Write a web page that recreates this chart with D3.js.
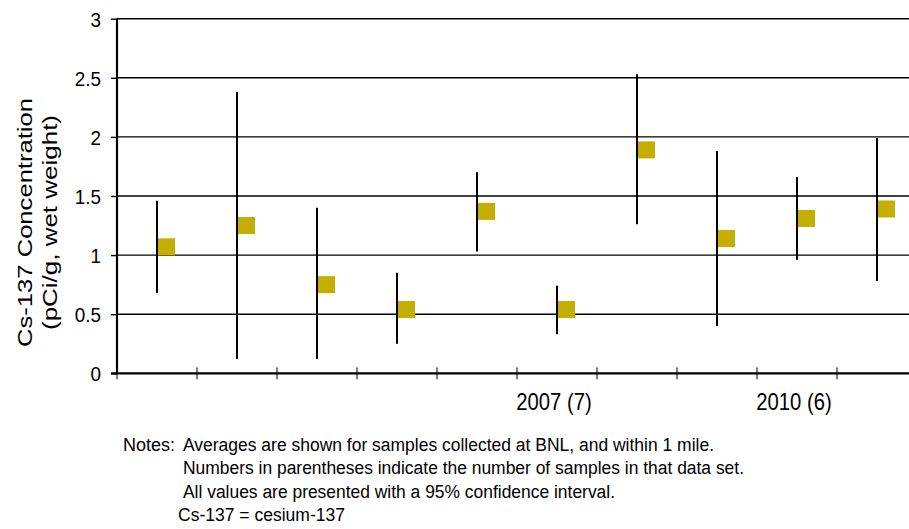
<!DOCTYPE html>
<html>
<head>
<meta charset="utf-8">
<script src="https://cdn.jsdelivr.net/npm/d3@7"></script>
<style>
  body { margin: 0; background: #fff; }
  svg text { font-family: "Liberation Sans", Arial, sans-serif; fill: #000; }
</style>
</head>
<body>
<div id="chart"></div>
<script>
// sampling years (only two labels are printed in the original)
let tickLabels = ["", "", "", "", "", "2007 (7)", "", "", "2010 (6)", ""];

// Cs-137 averages and 95% confidence limits (pCi/g, wet weight)
let means = [1.07, 1.25, 0.75, 0.54, 1.37, 0.54, 1.89, 1.14, 1.31, 1.39];
let upper = [1.46, 2.38, 1.40, 0.85, 1.70, 0.74, 2.53, 1.88, 1.66, 1.99];
let lower = [0.68, 0.12, 0.12, 0.25, 1.03, 0.33, 1.26, 0.40, 0.96, 0.78];

let yTicks = [0, 0.5, 1, 1.5, 2, 2.5, 3];

let notes = [
    "Averages are shown for samples collected at BNL, and within 1 mile.",
    "Numbers in parentheses indicate the number of samples in that data set.",
    "All values are presented with a 95% confidence interval.",
    "Cs-137 = cesium-137"
];
let noteWidths = [531, 561, 432, 167]; // printed widths, the font is a narrow one

var W = 909, H = 529;
var margin = { top: 18.7, left: 117 };
var plotW = 800, plotH = 354.6;

var svg = d3.select("#chart")
    .append("svg")
    .attr("width", W)
    .attr("height", H);

var g = svg.append("g")
    .attr("transform", "translate(" + margin.left + "," + margin.top + ")");

var data = means.map(function(d, i) {
    return { i: i, mean: d, hi: upper[i], lo: lower[i] };
});

var x = d3.scaleBand()
    .domain(d3.range(means.length))
    .range([0, plotW])
    .padding(0);

var y = d3.scaleLinear()
    .domain([0, 3])
    .range([plotH, 0]);

// horizontal grid lines
g.selectAll(".grid")
    .data(yTicks.filter(function(d) { return d > 0; }))
    .enter().append("line")
    .attr("class", "grid")
    .attr("x1", 0)
    .attr("x2", plotW)
    .attr("y1", function(d) { return y(d); })
    .attr("y2", function(d) { return y(d); })
    .style("stroke", "#000")
    .style("stroke-width", 1.4);

// y axis
var yAxis = g.append("g")
    .call(d3.axisLeft(y).tickValues(yTicks).tickSize(6).tickFormat(d3.format("")));
yAxis.select(".domain").remove();
yAxis.selectAll(".tick line").style("stroke", "#000").style("stroke-width", 1.4);
yAxis.selectAll(".tick text")
    .attr("x", -16 / 0.9)
    .attr("transform", "scale(0.9,1)")
    .style("font-size", "21px")
    .attr("dy", "0.36em");

g.append("line")
    .attr("x1", 0).attr("x2", 0)
    .attr("y1", 0).attr("y2", plotH + 1)
    .style("stroke", "#000")
    .style("stroke-width", 2.2);

// x axis: tick marks on band edges, labels at band centres
var edges = d3.range(means.length + 1).map(function(i) { return i * x.bandwidth(); });
g.selectAll(".xtick")
    .data(edges)
    .enter().append("line")
    .attr("class", "xtick")
    .attr("x1", function(d) { return d; })
    .attr("x2", function(d) { return d; })
    .attr("y1", plotH - 6)
    .attr("y2", plotH + 6)
    .style("stroke", "#000")
    .style("stroke-width", 1);

g.append("line")
    .attr("x1", -6).attr("x2", plotW)
    .attr("y1", plotH).attr("y2", plotH)
    .style("stroke", "#000")
    .style("stroke-width", 2.2);

g.selectAll(".xlabel")
    .data(tickLabels)
    .enter().append("text")
    .attr("class", "xlabel")
    .attr("transform", function(d, i) {
        return "translate(" + (x(i) + x.bandwidth() / 2 - 3) + "," + (plotH + 37) + ") scale(0.88,1)";
    })
    .style("text-anchor", "middle")
    .style("font-size", "23px")
    .text(function(d) { return d; });

// error bars
g.selectAll(".err")
    .data(data)
    .enter().append("line")
    .attr("class", "err")
    .attr("x1", function(d) { return x(d.i) + x.bandwidth() / 2; })
    .attr("x2", function(d) { return x(d.i) + x.bandwidth() / 2; })
    .attr("y1", function(d) { return y(d.hi); })
    .attr("y2", function(d) { return y(d.lo); })
    .style("stroke", "#000")
    .style("stroke-width", 2);

// mean markers
var sq = 17;
g.selectAll(".mean")
    .data(data)
    .enter().append("rect")
    .attr("class", "mean")
    .attr("x", function(d) { return x(d.i) + x.bandwidth() / 2 + 1; })
    .attr("y", function(d) { return y(d.mean) - sq / 2; })
    .attr("width", sq)
    .attr("height", sq)
    .style("fill", "#c4ae00");

// y title
var yt = svg.append("text")
    .attr("transform", "translate(0,222.5) rotate(-90)")
    .style("text-anchor", "middle")
    .style("font-size", "21px");
yt.append("tspan").attr("x", 0).attr("y", 32)
    .attr("textLength", 249).attr("lengthAdjust", "spacingAndGlyphs")
    .text("Cs-137 Concentration");
yt.append("tspan").attr("x", 0).attr("y", 57)
    .attr("textLength", 215).attr("lengthAdjust", "spacingAndGlyphs")
    .text("(pCi/g, wet weight)");

// notes
svg.append("text")
    .attr("x", 123)
    .attr("y", 451)
    .attr("textLength", 52)
    .attr("lengthAdjust", "spacingAndGlyphs")
    .style("font-size", "18px")
    .text("Notes:");

svg.selectAll(".note")
    .data(notes)
    .enter().append("text")
    .attr("class", "note")
    .attr("x", function(d, i) { return i == 3 ? 178 : 183; })
    .attr("y", function(d, i) { return 451 + i * 23.4; })
    .attr("textLength", function(d, i) { return noteWidths[i]; })
    .attr("lengthAdjust", "spacingAndGlyphs")
    .style("font-size", "18px")
    .text(function(d) { return d; });
</script>
</body>
</html>
